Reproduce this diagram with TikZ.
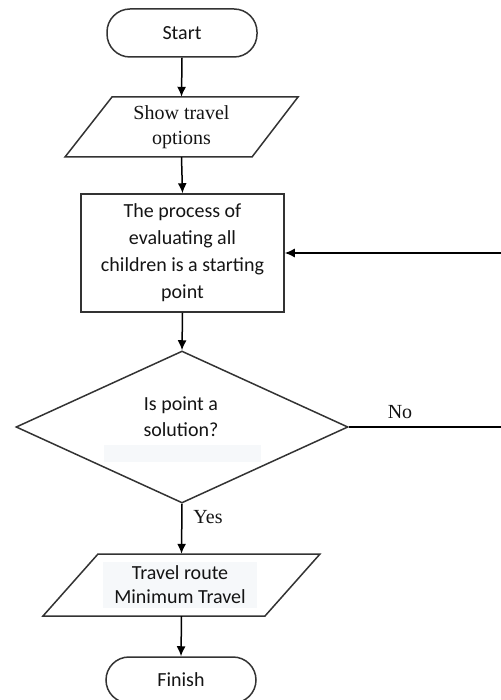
\documentclass[tikz,border=0pt]{standalone}
\usepackage{fontspec}
\setmainfont{Liberation Serif}
\newfontfamily\calfont{Carlito}
\usetikzlibrary{arrows.meta,shapes.geometric}
\definecolor{faint}{HTML}{F6F8FA}
\definecolor{edge}{HTML}{333333}
\begin{document}
\begin{tikzpicture}[x=1pt,y=-1pt,
  outline/.style={draw=edge, line width=1.5pt},
  flow/.style={-{Latex[length=10pt,width=9pt]}, line width=1.5pt, draw=black},
  cal/.style={font=\calfont\fontsize{20}{27}\selectfont, text=black!92},
  ser/.style={font=\fontsize{20}{25}\selectfont, text=black!92},
  term/.style={outline, rectangle, rounded corners=23pt, minimum width=150pt, inner sep=0pt, cal},
  holder/.style={rectangle, inner sep=0pt, align=center}
]
\useasboundingbox (0,0) rectangle (500,700);

% Start
\node[term, minimum height=48pt] (start) at (182,33) {Start};

% Show travel options (parallelogram)
\node[holder, ser, minimum width=186pt, minimum height=60pt] (show) at (181.5,127) {Show travel\\options};
\draw[outline] (65,157) -- (112,97) -- (298,97) -- (252,157) -- cycle;

% Process box
\node[outline, holder, cal, minimum width=203pt, minimum height=118pt] (proc) at (182.5,253)
  {The process of\\evaluating all\\children is a starting\\point};

% Decision diamond
\node[outline, diamond, minimum width=332pt, minimum height=152pt, inner sep=0pt] (dec) at (182,427) {};
\node[holder, cal, font=\calfont\fontsize{20}{26}\selectfont] (dectext) at (181,417) {Is point a\\solution?};
\node[rectangle, fill=faint, minimum width=157pt, minimum height=17pt, inner sep=0pt] (blank) at (182.5,453.5) {};

% Travel route (parallelogram)
\node[holder, minimum width=222pt, minimum height=62pt] (route) at (181.5,585) {};
\draw[outline] (43,616) -- (98,554) -- (320,554) -- (265,616) -- cycle;
\node[holder, cal, font=\calfont\fontsize{20}{24}\selectfont, fill=faint, minimum width=154pt, minimum height=46pt] (routetext) at (180,585)
  {Travel route\\Minimum Travel};

% Finish
\node[term, minimum height=46pt] (finish) at (181,680) {Finish};

% Connectors
\draw[flow] (start.south) -- (show.north);
\draw[flow] (show.south) -- (proc.north);
\draw[flow] (proc.south) -- (dec.north);
\draw[flow] (dec.south) -- (route.north);
\draw[flow] (route.south) -- (finish.north);
\coordinate (loopcorner) at (506,427);
\draw[flow] (dec.east) -- (loopcorner) |- (proc.east);

% Labels
\node[ser] (yes) at (208,517) {Yes};
\node[ser] (no) at (400,412) {No};
\end{tikzpicture}
\end{document}
